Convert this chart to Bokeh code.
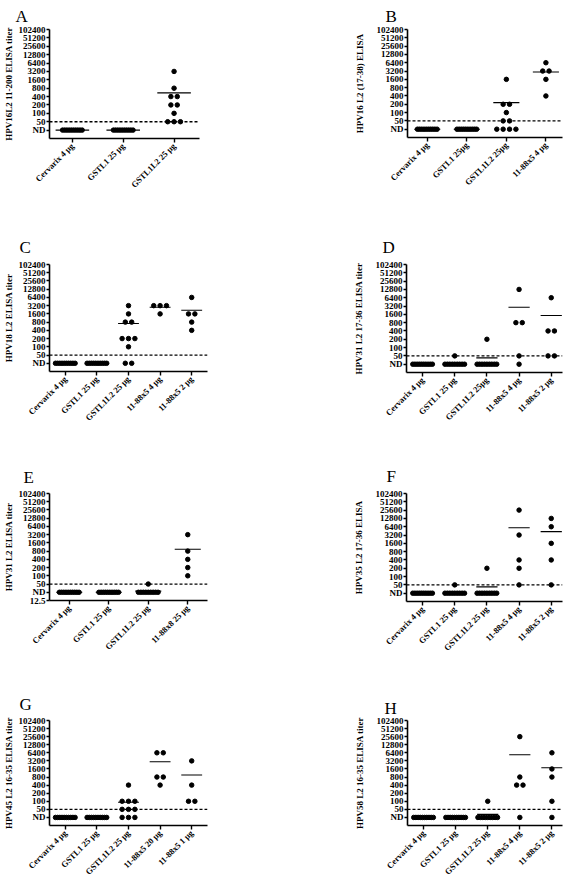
import math
from collections import Counter
from bokeh.plotting import figure
from bokeh.models import Range1d, FixedTicker, Span, ColumnDataSource
from bokeh.layouts import row, column
from bokeh.embed import file_html
from bokeh.resources import INLINE

# ---------------- data ----------------
ND = 25          # plotted level for "not detected"
CUTOFF = 50      # detection cut-off (dashed line)
y_ticks = [25, 50, 100, 200, 400, 800, 1600, 3200, 6400, 12800, 25600, 51200, 102400]
y_tick_labels = ["ND", "50", "100", "200", "400", "800", "1600", "3200", "6400",
                 "12800", "25600", "51200", "102400"]
E_extra_tick = 12.5
E_extra_label = "12.5"

A_groups = ["Cervarix 4 µg", "GSTL1 25 µg", "GSTL1L2 25 µg"]
A_values = [
    [ND, ND, ND, ND, ND, ND, ND, ND, ND, ND],
    [ND, ND, ND, ND, ND, ND, ND, ND, ND, ND],
    [3200, 800, 400, 400, 200, 200, 100, 50, 50, 50],
]
A_ylabel = "HPV16L2 11-200 ELISA titer"

B_groups = ["Cervarix 4 µg", "GSTL1 25µg", "GSTL1L2 25µg", "11-88x5 4 µg"]
B_values = [
    [ND, ND, ND, ND, ND, ND, ND, ND, ND, ND],
    [ND, ND, ND, ND, ND, ND, ND, ND, ND, ND],
    [1600, 200, 200, 100, 50, 50, ND, ND, ND, ND],
    [6400, 3200, 3200, 1600, 400],
]
B_ylabel = "HPV16 L2 (17-38) ELISA"

C_groups = ["Cervarix 4 µg", "GSTL1 25 µg", "GSTL1L2 25 µg", "11-88x5 4 µg", "11-88x5 2 µg"]
C_values = [
    [ND, ND, ND, ND, ND, ND, ND, ND, ND, ND],
    [ND, ND, ND, ND, ND, ND, ND, ND, ND, ND],
    [3200, 1600, 800, 800, 200, 200, 200, 100, ND, ND],
    [3200, 3200, 3200, 1600],
    [6400, 1600, 1600, 800, 400],
]
C_ylabel = "HPV18 L2 ELISA titer"

D_groups = ["Cervarix 4 µg", "GSTL1 25 µg", "GSTL1L2 25µg", "11-88x5 4 µg", "11-88x5 2 µg"]
D_values = [
    [ND, ND, ND, ND, ND, ND, ND, ND, ND, ND],
    [50, ND, ND, ND, ND, ND, ND, ND, ND, ND],
    [200, ND, ND, ND, ND, ND, ND, ND, ND, ND],
    [12800, 800, 800, 50, ND],
    [6400, 400, 400, 50, 50],
]
D_ylabel = "HPV31 L2 17-36 ELISA titer"

E_groups = ["Cervarix 4 µg", "GSTL1 25 µg", "GSTL1L2 25 µg", "11-88x8 25 µg"]
E_values = [
    [ND, ND, ND, ND, ND, ND, ND, ND, ND, ND],
    [ND, ND, ND, ND, ND, ND, ND, ND, ND, ND],
    [50, ND, ND, ND, ND, ND, ND, ND, ND, ND],
    [3200, 800, 400, 200, 100],
]
E_ylabel = "HPV31 L2 ELISA titer"

F_groups = ["Cervarix 4 µg", "GSTL1 25 µg", "GSTL1L2 25 µg", "11-88x5 4 µg", "11-88x5 2 µg"]
F_values = [
    [ND, ND, ND, ND, ND, ND, ND, ND, ND, ND],
    [50, ND, ND, ND, ND, ND, ND, ND, ND, ND],
    [200, ND, ND, ND, ND, ND, ND, ND, ND, ND],
    [25600, 3200, 400, 200, 50],
    [12800, 6400, 1600, 400, 50],
]
F_ylabel = "HPV35 L2 17-36 ELISA"

G_groups = ["Cervarix 4 µg", "GSTL1 25 µg", "GSTL1L2 25 µg", "11-88x5 20 µg", "11-88x5 1 µg"]
G_values = [
    [ND, ND, ND, ND, ND, ND, ND, ND, ND, ND],
    [ND, ND, ND, ND, ND, ND, ND, ND, ND, ND],
    [400, 100, 100, 100, 50, 50, 50, ND, ND, ND],
    [6400, 6400, 800, 800, 400],
    [3200, 400, 100, 100],
]
G_ylabel = "HPV45 L2 16-35 ELISA titer"

H_groups = ["Cervarix 4 µg", "GSTL1 25 µg", "GSTL1L2 25 µg", "11-88x5 4 µg", "11-88x5 2 µg"]
H_values = [
    [ND, ND, ND, ND, ND, ND, ND, ND, ND, ND],
    [ND, ND, ND, ND, ND, ND, ND, ND, ND, ND],
    [100, ND, ND, ND, ND, ND, ND, ND, ND, ND],
    [25600, 800, 400, 400, ND],
    [6400, 1600, 800, 100, ND],
]
H_ylabel = "HPV58 L2 16-35 ELISA titer"

# ---------------- style ----------------
FONT = "Liberation Serif"


def make_panel(letter, groups, values, ylabel, s, extra_ticks=(), extra_labels=()):
    n = len(groups)
    x0 = s["x0"]
    x1 = s["x1"] if s.get("x1") is not None else n - 0.5
    p = figure(frame_width=s["fw"], frame_height=s["fh"],
               x_range=Range1d(x0, x1), y_range=Range1d(12.5, 102400),
               y_axis_type="log", output_backend="svg", toolbar_location=None,
               min_border_left=s["bl"], min_border_right=s["br"],
               min_border_top=s["bt"], min_border_bottom=s["bb"],
               background_fill_color="white", border_fill_color="white")
    p.outline_line_color = None
    p.xgrid.visible = False
    p.ygrid.visible = False

    # panel letter
    p.title.text = letter
    p.title.text_font = FONT
    p.title.text_font_style = "normal"
    p.title.text_font_size = "17px"
    p.title.text_color = "black"
    p.title.align = "left"
    p.title.offset = s["ldx"]
    p.title.standoff = s["lst"]

    px_per_unit = s["fw"] / (x1 - x0)
    xs, ys = [], []
    for i, vals in enumerate(values):
        cnt = Counter(vals)
        seen = Counter()
        for v in vals:
            k = cnt[v]
            j = seen[v]
            seen[v] += 1
            step = 6.5 if k < 2 else min(6.5, 20.0 / (k - 1))
            xs.append(i + (j - (k - 1) / 2.0) * step / px_per_unit)
            ys.append(v)
    means = [sum(v) / len(v) for v in values]
    idx = list(range(n))

    p.add_layout(Span(location=CUTOFF, dimension="width", line_color="black",
                      line_width=1.3, line_dash="3 2"))
    msrc = ColumnDataSource(dict(x0=[i - 0.33 for i in idx], x1=[i + 0.33 for i in idx],
                                 y=means))
    p.segment(x0="x0", x1="x1", y0="y", y1="y", source=msrc,
              line_color="black", line_width=1.1)
    p.scatter(x=xs, y=ys, size=4.5, marker="circle", fill_color="black",
              line_color="black")

    xa = p.xaxis[0]
    ya = p.yaxis[0]
    xa.ticker = FixedTicker(ticks=idx)
    xa.major_label_overrides = {i: g for i, g in enumerate(groups)}
    xa.major_label_orientation = math.pi / 4
    ticks = list(extra_ticks) + y_ticks
    labels = list(extra_labels) + y_tick_labels
    ya.ticker = FixedTicker(ticks=ticks, minor_ticks=[])
    ya.major_label_overrides = {t: l for t, l in zip(ticks, labels)}
    for ax in (xa, ya):
        ax.axis_line_width = 1.6
        ax.axis_line_color = "black"
        ax.major_tick_line_width = 1.4
        ax.major_tick_line_color = "black"
        ax.major_tick_in = 0
        ax.minor_tick_line_color = None
        ax.major_label_text_font = FONT
        ax.major_label_text_font_style = "bold"
        ax.major_label_text_color = "black"
    ya.major_label_text_font_size = "9px"
    xa.major_label_text_font_size = "8.5px"
    xa.major_tick_out = 4
    xa.major_label_standoff = 2
    ya.major_tick_out = 3
    ya.major_label_standoff = 1
    ya.axis_label = ylabel
    ya.axis_label_text_font = FONT
    ya.axis_label_text_font_style = "bold"
    ya.axis_label_text_font_size = "9px"
    ya.axis_label_text_color = "black"
    ya.axis_label_standoff = s["ls"]
    return p


# rows: 8-228, 228-456, 456-680, 680-884 (page pixels)
sA = dict(fw=153, fh=109, bl=44, br=93, bt=28, bb=83, x0=-0.45, x1=None, ls=2, ldx=-34, lst=7)
sB = dict(fw=158, fh=108, bl=115, br=0, bt=28, bb=84, x0=-0.5, x1=3.42, ls=9, ldx=-22, lst=8)
sC = dict(fw=161, fh=107, bl=44, br=85, bt=43, bb=78, x0=-0.5, x1=None, ls=2, ldx=-30, lst=15)
sD = dict(fw=159, fh=108, bl=114, br=0, bt=41, bb=79, x0=-0.5, x1=4.35, ls=9, ldx=-24, lst=15)
sE = dict(fw=161, fh=107, bl=44, br=85, bt=44, bb=73, x0=-0.5, x1=None, ls=2, ldx=-26, lst=14)
sF = dict(fw=159, fh=108, bl=114, br=0, bt=43, bb=73, x0=-0.5, x1=4.35, ls=9, ldx=-20, lst=15)
sG = dict(fw=161, fh=105, bl=44, br=85, bt=46, bb=53, x0=-0.5, x1=None, ls=2, ldx=-30, lst=13)
sH = dict(fw=158, fh=105, bl=115, br=0, bt=47, bb=52, x0=-0.5, x1=4.33, ls=9, ldx=-23, lst=6)

pA = make_panel("A", A_groups, A_values, A_ylabel, sA)
pB = make_panel("B", B_groups, B_values, B_ylabel, sB)
pC = make_panel("C", C_groups, C_values, C_ylabel, sC)
pD = make_panel("D", D_groups, D_values, D_ylabel, sD)
pE = make_panel("E", E_groups, E_values, E_ylabel, sE, [E_extra_tick], [E_extra_label])
pF = make_panel("F", F_groups, F_values, F_ylabel, sF)
pG = make_panel("G", G_groups, G_values, G_ylabel, sG)
pH = make_panel("H", H_groups, H_values, H_ylabel, sH)

root = column(row(pA, pB), row(pC, pD), row(pE, pF), row(pG, pH),
              width=563, height=876, styles={"overflow": "hidden"})

open("out.html", "w").write(file_html(root, INLINE))
